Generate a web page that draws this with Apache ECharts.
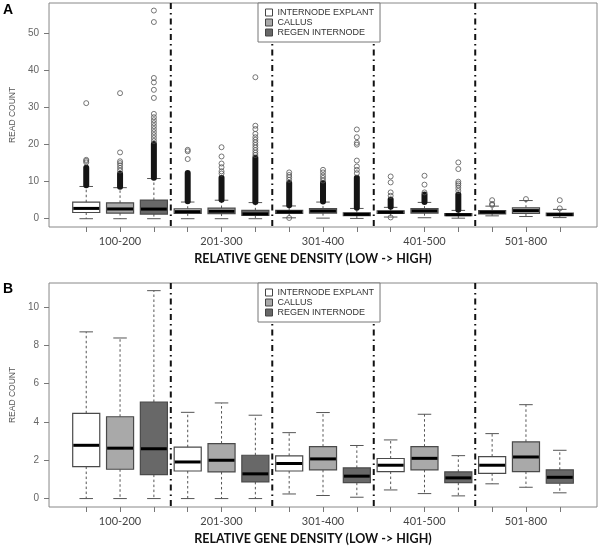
<!DOCTYPE html>
<html>
<head>
<meta charset="utf-8">
<script src="https://cdn.jsdelivr.net/npm/echarts@6/dist/echarts.min.js"></script>
<style>html,body{margin:0;padding:0;background:#fff}#chart{width:600px;height:552px}</style>
</head>
<body>
<div id="chart"></div>
<script>
// ---- data ----
const groups = ['100-200', '201-300', '301-400', '401-500', '501-800'];
const samples = ['INTERNODE EXPLANT', 'CALLUS', 'REGEN INTERNODE'];
// per group: [lower whisker, Q1, median, Q3, upper whisker]
const explantStats = [[0, 1.67, 2.78, 4.45, 8.70], [0, 1.44, 1.91, 2.68, 4.50], [0.24, 1.44, 1.83, 2.23, 3.44], [0.45, 1.41, 1.74, 2.09, 3.06], [0.77, 1.32, 1.74, 2.19, 3.39]];
const callusStats  = [[0, 1.53, 2.63, 4.27, 8.38], [0, 1.39, 2.00, 2.87, 4.99], [0.16, 1.50, 2.07, 2.71, 4.49], [0.26, 1.50, 2.10, 2.71, 4.40], [0.59, 1.41, 2.17, 2.96, 4.90]];
const regenStats   = [[0, 1.25, 2.60, 5.04, 10.85], [0, 0.87, 1.29, 2.26, 4.35], [0.07, 0.83, 1.17, 1.60, 2.77], [0.14, 0.83, 1.08, 1.39, 2.24], [0.30, 0.80, 1.11, 1.50, 2.52]];
// panel A: densely packed outliers shown as [from, to] per group (null = none)
const explantDense = [[8.9, 13.9], [4.6, 12.5], [3.5, 9.8], [3.1, 5.3], null];
const callusDense  = [[8.5, 12.3], [5.0, 11.2], [4.5, 9.8], [4.4, 6.7], null];
const regenDense   = [[10.9, 20.3], [4.4, 16.6], [2.8, 11.2], [2.3, 6.7], null];
// panel A: individual outliers per group
const explantOut = [[15.2, 15.6, 15.9, 31.2], [16.1, 18.2, 18.6], [0.2, 10.5, 11.2, 11.8, 12.5], [0.35, 6.2, 7.1, 9.8, 11.4], [3.7, 4.0, 5.0]];
const callusOut  = [[13.0, 13.7, 14.4, 15.0, 15.5, 17.9, 33.9], [12.2, 12.8, 13.9, 14.9, 16.8, 19.3], [10.3, 11.0, 11.7, 12.5, 13.2], [7.1, 9.2, 11.6], [5.3]];
const regenOut   = [[21.0, 21.8, 22.6, 23.4, 24.2, 25.0, 25.8, 26.6, 27.4, 28.3, 32.6, 34.8, 36.8, 38.0, 53.1, 56.2],
                    [17.2, 17.8, 18.5, 19.2, 19.9, 20.6, 21.3, 22.0, 22.9, 24.2, 25.1, 38.2],
                    [12.3, 13.2, 14.1, 15.7, 20.0, 20.5, 22.0, 24.1],
                    [7.5, 8.3, 9.0, 9.5, 10.0, 13.4, 15.2],
                    [2.8, 5.0]];
const yTicksA = [0, 10, 20, 30, 40, 50];
const yTicksB = [0, 2, 4, 6, 8, 10];

const allStats = [explantStats, callusStats, regenStats];
const allDense = [explantDense, callusDense, regenDense];
const allOut = [explantOut, callusOut, regenOut];
const fills = ['#ffffff', '#a9a9a9', '#686868'];
const separators = [3.5, 6.5, 9.5, 12.5];
const xPos = (g, s) => g * 3 + s + 1;

function renderBox(params, api) {
  const x = api.value(0);
  const lo = api.coord([x, api.value(1)]);
  const q1 = api.coord([x, api.value(2)]);
  const md = api.coord([x, api.value(3)]);
  const q3 = api.coord([x, api.value(4)]);
  const hi = api.coord([x, api.value(5)]);
  const bw = api.size([0.8, 0])[0];
  const cx = lo[0];
  const whisk = { stroke: '#555', lineWidth: 1, lineDash: [2.5, 2.5] };
  const cap = { stroke: '#555', lineWidth: 1 };
  return {
    type: 'group', children: [
      { type: 'line', shape: { x1: cx, y1: q3[1], x2: cx, y2: hi[1] }, style: whisk },
      { type: 'line', shape: { x1: cx, y1: q1[1], x2: cx, y2: lo[1] }, style: whisk },
      { type: 'line', shape: { x1: cx - bw / 4, y1: hi[1], x2: cx + bw / 4, y2: hi[1] }, style: cap },
      { type: 'line', shape: { x1: cx - bw / 4, y1: lo[1], x2: cx + bw / 4, y2: lo[1] }, style: cap },
      { type: 'rect', shape: { x: cx - bw / 2, y: q3[1], width: bw, height: q1[1] - q3[1] }, style: { fill: api.visual('color'), stroke: '#4a4a4a', lineWidth: 1.2 } },
      { type: 'line', shape: { x1: cx - bw / 2 + 0.6, y1: md[1], x2: cx + bw / 2 - 0.6, y2: md[1] }, style: { stroke: '#000', lineWidth: 3 } }
    ]
  };
}
function renderDense(params, api) {
  const x = api.value(0);
  const a = api.coord([x, api.value(2)]);
  const b = api.coord([x, api.value(1)]);
  return { type: 'rect', shape: { x: a[0] - 3, y: a[1] - 2.5, width: 6, height: b[1] - a[1] + 5, r: 3 }, style: { fill: '#151515' } };
}
function renderSep(params, api) {
  const x = api.coord([api.value(0), 0])[0];
  const cs = params.coordSys;
  return { type: 'line', shape: { x1: x, y1: cs.y, x2: x, y2: cs.y + cs.height }, style: { stroke: '#111', lineWidth: 2, lineDash: [6, 4, 1.5, 4] } };
}

const series = [];
[0, 1].forEach(p => {
  samples.forEach((name, s) => {
    series.push({
      type: 'custom', name, xAxisIndex: p, yAxisIndex: p,
      itemStyle: { color: fills[s] },
      renderItem: renderBox, z: 3,
      data: allStats[s].map((st, g) => [xPos(g, s), ...st])
    });
  });
  series.push({
    type: 'custom', name: 'sep' + p, xAxisIndex: p, yAxisIndex: p, renderItem: renderSep, z: 2,
    data: separators.map(v => [v])
  });
});
samples.forEach((name, s) => {
  series.push({
    type: 'custom', name: 'dense' + s, xAxisIndex: 0, yAxisIndex: 0, renderItem: renderDense, z: 4,
    data: allDense[s].map((d, g) => d ? [xPos(g, s), d[0], d[1]] : null).filter(Boolean)
  });
  series.push({
    type: 'scatter', name: 'out' + s, xAxisIndex: 0, yAxisIndex: 0, z: 4,
    symbol: 'circle', symbolSize: 5,
    itemStyle: { color: 'rgba(0,0,0,0)', borderColor: '#555', borderWidth: 1 },
    data: allOut[s].flatMap((arr, g) => arr.map(v => [xPos(g, s), v]))
  });
});

function xAxis(idx) {
  return {
    type: 'value', gridIndex: idx, min: -0.1, max: 16.1,
    axisLine: { show: false, onZero: false },
    splitLine: { show: false },
    axisTick: { show: true, length: 5, lineStyle: { color: '#777' }, customValues: [1,2,3,4,5,6,7,8,9,10,11,12,13,14,15] },
    axisLabel: { customValues: [2, 5, 8, 11, 14], formatter: v => groups[Math.round((v - 2) / 3)], margin: 9, fontFamily: 'Lato', fontSize: 11, color: '#444' },
    name: 'RELATIVE GENE DENSITY (LOW -> HIGH)', nameLocation: 'middle', nameGap: 25,
    nameTextStyle: { fontFamily: 'Lato', fontWeight: 'bold', fontSize: 12.5, color: '#111', padding: [0, 20, 0, 0] }
  };
}
function yAxis(idx, min, max, ticks) {
  return {
    type: 'value', gridIndex: idx, min, max,
    axisLine: { show: false, onZero: false },
    splitLine: { show: false },
    axisTick: { show: true, length: 5, lineStyle: { color: '#777' }, customValues: ticks },
    axisLabel: { customValues: ticks, margin: 10, fontFamily: 'Liberation Sans', fontSize: 10, color: '#666' },
    name: 'READ COUNT', nameLocation: 'middle', nameGap: 32,
    nameTextStyle: { fontFamily: 'Liberation Sans', fontSize: 8.5, color: '#555' }
  };
}
function legend(top) {
  return {
    orient: 'vertical', left: 258, top, padding: [5, 6, 5, 7],
    data: samples.map(n => ({ name: n, icon: 'rect' })),
    itemWidth: 7, itemHeight: 7, itemGap: 1,
    itemStyle: { borderColor: '#444', borderWidth: 1 },
    borderColor: '#777', borderWidth: 1, backgroundColor: '#fff',
    textStyle: { fontFamily: 'Liberation Sans', fontSize: 9, color: '#333', lineHeight: 9 },
    selectedMode: false
  };
}

const chart = echarts.init(document.getElementById('chart'), null, { renderer: 'canvas' });
chart.setOption({
  animation: false,
  grid: [
    { left: 41, top: 3, width: 556, height: 224, show: true, borderColor: '#888', borderWidth: 1 },
    { left: 41, top: 283, width: 556, height: 224, show: true, borderColor: '#888', borderWidth: 1 }
  ],
  xAxis: [xAxis(0), xAxis(1)],
  yAxis: [yAxis(0, -2.24, 58.24, yTicksA), yAxis(1, -0.44, 11.25, yTicksB)],
  legend: [legend(3), legend(283)],
  graphic: [
    { type: 'text', left: 3, top: 3, style: { text: 'A', font: 'bold 14px "Liberation Sans"', fill: '#000' } },
    { type: 'text', left: 3, top: 282, style: { text: 'B', font: 'bold 14px "Liberation Sans"', fill: '#000' } }
  ],
  series
});
</script>
</body>
</html>
